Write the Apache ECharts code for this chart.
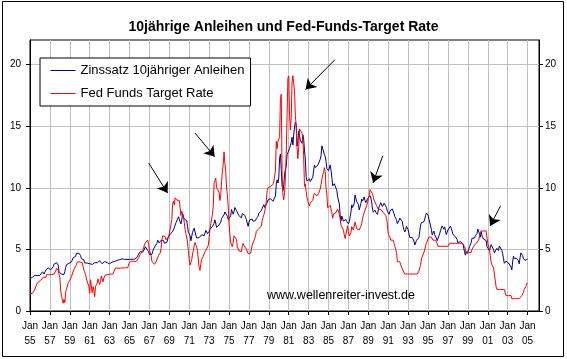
<!DOCTYPE html>
<html><head><meta charset="utf-8">
<script src="https://cdn.jsdelivr.net/npm/echarts@6/dist/echarts.min.js"></script>
<style>html,body{margin:0;padding:0;background:#fff}#c{width:567px;height:359px}</style>
</head><body><div id="c"></div>
<script>
// Monthly values starting January 1955 (one row per year)
const startYear = 1955;
const yield10y = [
2.61,2.65,2.68,2.75,2.76,2.78,2.90,2.97,2.97,2.88,2.89,2.96,
2.90,2.84,2.96,3.18,3.07,3.00,3.11,3.33,3.38,3.34,3.49,3.59,
3.46,3.34,3.41,3.48,3.60,3.80,3.93,3.93,3.92,3.97,3.72,3.21,
3.09,3.05,2.98,2.88,2.92,2.97,3.20,3.54,3.76,3.80,3.74,3.86,
4.02,3.96,3.99,4.12,4.31,4.34,4.40,4.43,4.68,4.53,4.53,4.69,
4.72,4.49,4.25,4.28,4.35,4.15,3.90,3.80,3.80,3.89,3.93,3.84,
3.84,3.78,3.74,3.78,3.71,3.88,3.92,4.04,3.98,3.92,3.94,4.06,
4.08,4.04,3.93,3.84,3.87,3.91,4.01,3.98,3.98,3.93,3.92,3.86,
3.83,3.92,3.93,3.97,3.93,3.99,4.02,4.00,4.08,4.11,4.12,4.13,
4.17,4.15,4.22,4.23,4.20,4.17,4.19,4.19,4.20,4.19,4.15,4.18,
4.19,4.21,4.21,4.20,4.21,4.21,4.20,4.25,4.29,4.35,4.45,4.62,
4.61,4.83,4.87,4.75,4.78,4.81,5.02,5.22,5.18,5.01,5.16,4.84,
4.58,4.63,4.54,4.59,4.85,5.02,5.16,5.28,5.30,5.48,5.75,5.70,
5.53,5.56,5.74,5.64,5.87,5.72,5.50,5.42,5.46,5.58,5.70,6.03,
6.04,6.19,6.30,6.17,6.32,6.57,6.72,6.69,7.16,7.10,7.14,7.65,
7.79,7.24,7.07,7.39,7.91,7.84,7.46,7.53,7.39,7.33,6.84,6.39,
6.24,6.11,5.70,5.83,6.39,6.52,6.73,6.58,6.14,5.93,5.81,5.93,
5.95,6.08,6.07,6.19,6.13,6.11,6.11,6.21,6.55,6.48,6.28,6.36,
6.46,6.64,6.71,6.67,6.85,6.90,7.13,7.40,7.09,6.79,6.73,6.74,
6.99,6.96,7.21,7.51,7.58,7.54,7.81,8.04,8.04,7.90,7.68,7.43,
7.50,7.39,7.73,8.23,8.06,7.86,8.06,8.40,8.43,8.14,8.05,8.00,
7.74,7.79,7.73,7.56,7.90,7.86,7.83,7.77,7.59,7.41,7.29,6.87,
7.21,7.39,7.46,7.37,7.46,7.28,7.33,7.40,7.34,7.52,7.58,7.69,
7.96,8.03,8.04,8.15,8.35,8.46,8.64,8.41,8.42,8.64,8.81,9.01,
9.10,9.10,9.12,9.18,9.25,8.91,8.95,9.03,9.33,10.30,10.65,10.39,
10.80,12.41,12.75,11.47,10.18,9.78,10.25,11.10,11.51,11.75,12.68,12.84,
12.57,13.19,13.12,13.68,14.10,13.47,14.28,14.94,15.32,15.15,13.39,13.72,
14.59,14.43,13.86,13.87,13.62,14.30,13.95,13.06,12.34,10.91,10.55,10.54,
10.46,10.72,10.51,10.40,10.38,10.85,11.38,11.85,11.65,11.54,11.69,11.83,
11.67,11.84,12.32,12.63,13.41,13.56,13.36,12.72,12.52,12.16,11.57,11.50,
11.38,11.51,11.86,11.43,10.85,10.16,10.31,10.33,10.37,10.24,9.78,9.26,
9.19,8.70,7.78,7.30,7.71,7.80,7.30,7.17,7.45,7.43,7.25,7.11,
7.08,7.25,7.25,8.02,8.61,8.40,8.45,8.76,9.42,9.52,8.86,8.99,
8.67,8.21,8.37,8.72,9.09,8.92,9.06,9.26,8.98,8.80,8.96,9.11,
9.09,9.17,9.36,9.18,8.86,8.28,8.02,8.11,8.19,8.01,7.87,7.84,
8.21,8.47,8.59,8.79,8.76,8.48,8.47,8.75,8.89,8.72,8.39,8.08,
8.09,7.85,8.11,8.04,8.07,8.28,8.27,7.90,7.65,7.53,7.42,7.09,
7.03,7.34,7.54,7.48,7.39,7.26,6.84,6.59,6.42,6.59,6.87,6.77,
6.60,6.26,5.98,5.97,6.04,5.96,5.81,5.68,5.36,5.33,5.72,5.77,
5.75,5.97,6.48,6.97,7.18,7.10,7.30,7.24,7.46,7.74,7.96,7.81,
7.78,7.47,7.20,7.06,6.63,6.17,6.28,6.49,6.20,6.04,5.93,5.71,
5.65,5.81,6.27,6.51,6.74,6.91,6.87,6.64,6.83,6.53,6.20,6.30,
6.58,6.42,6.69,6.89,6.71,6.49,6.22,6.30,6.21,6.03,5.88,5.81,
5.54,5.57,5.65,5.64,5.65,5.50,5.46,5.34,4.81,4.53,4.83,4.65,
4.72,5.00,5.23,5.18,5.54,5.90,5.79,5.94,5.92,6.11,6.03,6.28,
6.66,6.52,6.26,5.99,6.44,6.10,6.05,5.83,5.80,5.74,5.72,5.24,
5.16,5.10,4.89,5.14,5.39,5.28,5.24,4.97,4.73,4.57,4.65,5.09,
5.04,4.91,5.28,5.21,5.16,4.93,4.65,4.26,3.87,3.94,4.05,4.03,
4.05,3.90,3.81,3.96,3.57,3.33,3.98,4.45,4.27,4.29,4.30,4.27,
4.15,4.08,3.83,4.35,4.72,4.73,4.50,4.28,4.13,4.10,4.19,4.23,
4.22
];
const fedFunds = [
1.39,1.29,1.35,1.43,1.43,1.64,1.68,1.96,2.18,2.24,2.35,2.48,
2.45,2.50,2.50,2.62,2.75,2.71,2.75,2.73,2.95,2.96,2.88,2.94,
2.84,3.00,2.96,3.00,3.00,3.00,2.99,3.24,3.47,3.50,3.28,2.98,
2.72,1.67,1.20,1.26,0.63,0.93,0.68,1.53,1.76,1.80,2.27,2.42,
2.48,2.43,2.80,2.96,2.90,3.39,3.47,3.50,3.76,3.98,4.00,3.99,
3.99,3.97,3.84,3.92,3.85,3.32,3.23,2.98,2.60,2.47,2.44,1.98,
1.45,2.54,2.02,1.49,1.98,1.73,1.16,2.00,1.88,2.26,2.61,2.33,
2.15,2.37,2.85,2.78,2.36,2.68,2.71,2.93,2.90,2.90,2.94,2.93,
2.92,3.00,2.98,2.90,3.00,2.99,3.02,3.49,3.48,3.50,3.48,3.38,
3.48,3.48,3.43,3.47,3.50,3.50,3.42,3.50,3.45,3.36,3.52,3.85,
3.90,3.98,4.04,4.09,4.10,4.04,4.09,4.12,4.01,4.08,4.10,4.32,
4.42,4.60,4.65,4.67,4.90,5.17,5.30,5.53,5.40,5.53,5.76,5.40,
4.94,5.00,4.53,4.05,3.94,3.98,3.79,3.90,3.99,3.88,4.13,4.51,
4.61,4.71,5.05,5.76,6.11,6.07,6.02,6.03,5.78,5.91,5.82,6.02,
6.30,6.64,6.79,7.41,8.67,8.90,8.61,9.19,9.15,9.00,8.85,8.97,
8.98,8.98,7.76,8.10,7.94,7.60,7.21,6.61,6.29,6.20,5.60,4.90,
4.14,3.72,3.71,4.16,4.63,4.91,5.31,5.56,5.55,5.20,4.91,4.14,
3.50,3.29,3.83,4.17,4.27,4.46,4.55,4.80,4.87,5.04,5.06,5.33,
5.94,6.58,7.09,7.12,7.84,8.49,10.40,10.50,10.78,10.01,10.03,9.95,
9.65,8.97,9.35,10.51,11.31,11.93,12.92,12.01,11.34,10.06,9.45,8.53,
7.13,6.24,5.54,5.49,5.22,5.55,6.10,6.14,6.24,5.82,5.22,5.20,
4.87,4.77,4.84,4.82,5.29,5.48,5.31,5.29,5.25,5.02,4.95,4.65,
4.61,4.68,4.69,4.73,5.35,5.39,5.42,5.90,6.14,6.47,6.51,6.56,
6.70,6.78,6.79,6.89,7.36,7.60,7.81,8.04,8.45,8.96,9.76,10.03,
10.07,10.06,10.09,10.01,10.24,10.29,10.47,10.94,11.43,13.77,13.18,13.78,
13.82,14.13,17.19,17.61,10.98,9.47,9.03,9.61,10.87,12.81,15.85,18.90,
19.08,15.93,14.70,15.72,18.52,19.10,19.04,17.82,15.87,15.08,13.31,12.37,
13.22,14.78,14.68,14.94,14.45,14.15,12.59,10.12,10.31,9.71,9.20,8.95,
8.68,8.51,8.77,8.80,8.63,8.98,9.37,9.56,9.45,9.48,9.34,9.47,
9.56,9.59,9.91,10.29,10.32,11.06,11.23,11.64,11.30,9.99,9.43,8.38,
8.35,8.50,8.58,8.27,7.97,7.53,7.88,7.90,7.92,7.99,8.05,8.27,
8.14,7.86,7.48,6.99,6.85,6.92,6.56,6.17,5.89,5.85,6.04,6.91,
6.43,6.10,6.13,6.37,6.85,6.73,6.58,6.73,7.22,7.29,6.69,6.77,
6.83,6.58,6.58,6.87,7.09,7.51,7.75,8.01,8.19,8.30,8.35,8.76,
9.12,9.36,9.85,9.84,9.81,9.53,9.24,8.99,9.02,8.84,8.55,8.45,
8.25,8.25,8.25,8.25,8.25,8.25,8.00,8.00,8.00,7.75,7.50,7.00,
6.25,6.25,6.00,5.75,5.75,5.75,5.75,5.50,5.25,5.00,4.75,4.00,
4.00,4.00,4.00,3.75,3.75,3.75,3.25,3.25,3.00,3.00,3.00,3.00,
3.00,3.00,3.00,3.00,3.00,3.00,3.00,3.00,3.00,3.00,3.00,3.00,
3.00,3.25,3.50,3.75,4.25,4.25,4.25,4.75,4.75,4.75,5.50,5.50,
5.50,6.00,6.00,6.00,6.00,6.00,5.75,5.75,5.75,5.75,5.75,5.50,
5.25,5.25,5.25,5.25,5.25,5.25,5.25,5.25,5.25,5.25,5.25,5.25,
5.25,5.25,5.50,5.50,5.50,5.50,5.50,5.50,5.50,5.50,5.50,5.50,
5.50,5.50,5.50,5.50,5.50,5.50,5.50,5.50,5.25,5.00,4.75,4.75,
4.75,4.75,4.75,4.75,4.75,5.00,5.00,5.25,5.25,5.25,5.50,5.50,
5.50,5.75,6.00,6.00,6.50,6.50,6.50,6.50,6.50,6.50,6.50,6.50,
5.50,5.50,5.00,4.50,4.00,3.75,3.75,3.50,3.00,2.50,2.00,1.75,
1.75,1.75,1.75,1.75,1.75,1.75,1.75,1.75,1.75,1.75,1.25,1.25,
1.25,1.25,1.25,1.25,1.25,1.00,1.00,1.00,1.00,1.00,1.00,1.00,
1.00,1.00,1.00,1.00,1.00,1.25,1.25,1.50,1.75,1.75,2.00,2.25,
2.25
];
const seriesNames = ['Zinssatz 10jähriger Anleihen', 'Fed Funds Target Rate'];
const xTickYears = ['55','57','59','61','63','65','67','69','71','73','75','77','79','81','83','85','87','89','91','93','95','97','99','01','03','05'];
const yTicks = [0, 5, 10, 15, 20];
// Arrow annotations: [startYearsSince1955, startValue, endYearsSince1955, endValue]
const arrows = [
  [11.93, 12.01, 13.83, 9.57],
  [16.58, 14.45, 18.56, 12.53],
  [30.65, 20.41, 27.69, 17.98],
  [35.45, 12.60, 34.48, 10.41],
  [47.29, 8.54, 46.24, 6.91]
];

const FONT = "'Liberation Sans', Arial, sans-serif";
const toXY = arr => arr.map((v, i) => [i / 12, v]);
const xTickVals = xTickYears.map((_, i) => i * 2);

const chart = echarts.init(document.getElementById('c'), null, {renderer: 'canvas'});
chart.setOption({
  animation: false,
  backgroundColor: '#fff',
  title: {
    text: '10jährige Anleihen und Fed-Funds-Target Rate',
    left: 'center', top: 15,
    textStyle: {fontFamily: FONT, fontSize: 14, fontWeight: 'bold', color: '#000'}
  },
  legend: {
    data: seriesNames,
    orient: 'vertical',
    left: 40, top: 58,
    padding: [6, 6, 6, 10],
    itemGap: 10,
    itemWidth: 25, itemHeight: 14,
    borderColor: '#000', borderWidth: 1,
    backgroundColor: '#fff',
    itemStyle: {opacity: 0},
    lineStyle: {width: 1},
    textStyle: {fontFamily: FONT, fontSize: 13, color: '#000'}
  },
  grid: {left: 30, right: 28, top: 40, bottom: 48, show: true, borderColor: '#000', borderWidth: 1, containLabel: false},
  xAxis: {
    type: 'value', min: 0, max: 51.15, interval: 2,
    axisLine: {lineStyle: {color: '#000', width: 1}},
    axisTick: {show: true, customValues: xTickVals, length: 4, lineStyle: {color: '#000'}},
    axisLabel: {
      customValues: xTickVals,
      formatter: v => 'Jan\n' + xTickYears[Math.round(v / 2)],
      fontFamily: FONT, fontSize: 10, color: '#000', lineHeight: 15, margin: 8
    },
    splitLine: {show: true, lineStyle: {color: '#c0c0c0', width: 1}}
  },
  yAxis: [{
    type: 'value', min: 0, max: 22, interval: 5, position: 'left',
    axisLine: {show: true, lineStyle: {color: '#000'}},
    axisTick: {show: true, customValues: yTicks, length: 4, lineStyle: {color: '#000'}},
    axisLabel: {customValues: yTicks, fontFamily: FONT, fontSize: 10, color: '#000', margin: 9},
    splitLine: {show: true, lineStyle: {color: '#c0c0c0', width: 1}}
  }, {
    type: 'value', min: 0, max: 22, interval: 5, position: 'right',
    axisLine: {show: true, lineStyle: {color: '#000'}},
    axisTick: {show: true, customValues: yTicks, length: 4, lineStyle: {color: '#000'}},
    axisLabel: {customValues: yTicks, fontFamily: FONT, fontSize: 10, color: '#000', margin: 6},
    splitLine: {show: false}
  }],
  series: [{
    name: seriesNames[0], type: 'line', data: toXY(yield10y),
    symbol: 'none', lineStyle: {color: '#000080', width: 1}, itemStyle: {color: '#000080'},
    z: 2
  }, {
    name: seriesNames[1], type: 'line', data: toXY(fedFunds),
    symbol: 'none', lineStyle: {color: '#ff0000', width: 1}, itemStyle: {color: '#ff0000'},
    z: 3,
    markLine: {
      silent: true, symbol: ['none', 'arrow'], symbolSize: 10,
      label: {show: false},
      lineStyle: {color: '#000', width: 1, type: 'solid', opacity: 1},
      itemStyle: {color: '#000'},
      emphasis: {disabled: true},
      data: arrows.map(a => [{coord: [a[0], a[1]]}, {coord: [a[2], a[3]]}])
    }
  }],
  graphic: [{
    type: 'rect', shape: {x: 2.5, y: 1.5, width: 561, height: 355},
    style: {fill: 'none', stroke: '#000', lineWidth: 1}, z: 100, silent: true
  }, {
    type: 'text', left: 267, top: 289,
    style: {text: 'www.wellenreiter-invest.de', font: "12.5px 'Liberation Sans', Arial, sans-serif", fill: '#000'},
    z: 50, silent: true
  }]
});
</script>
</body></html>
